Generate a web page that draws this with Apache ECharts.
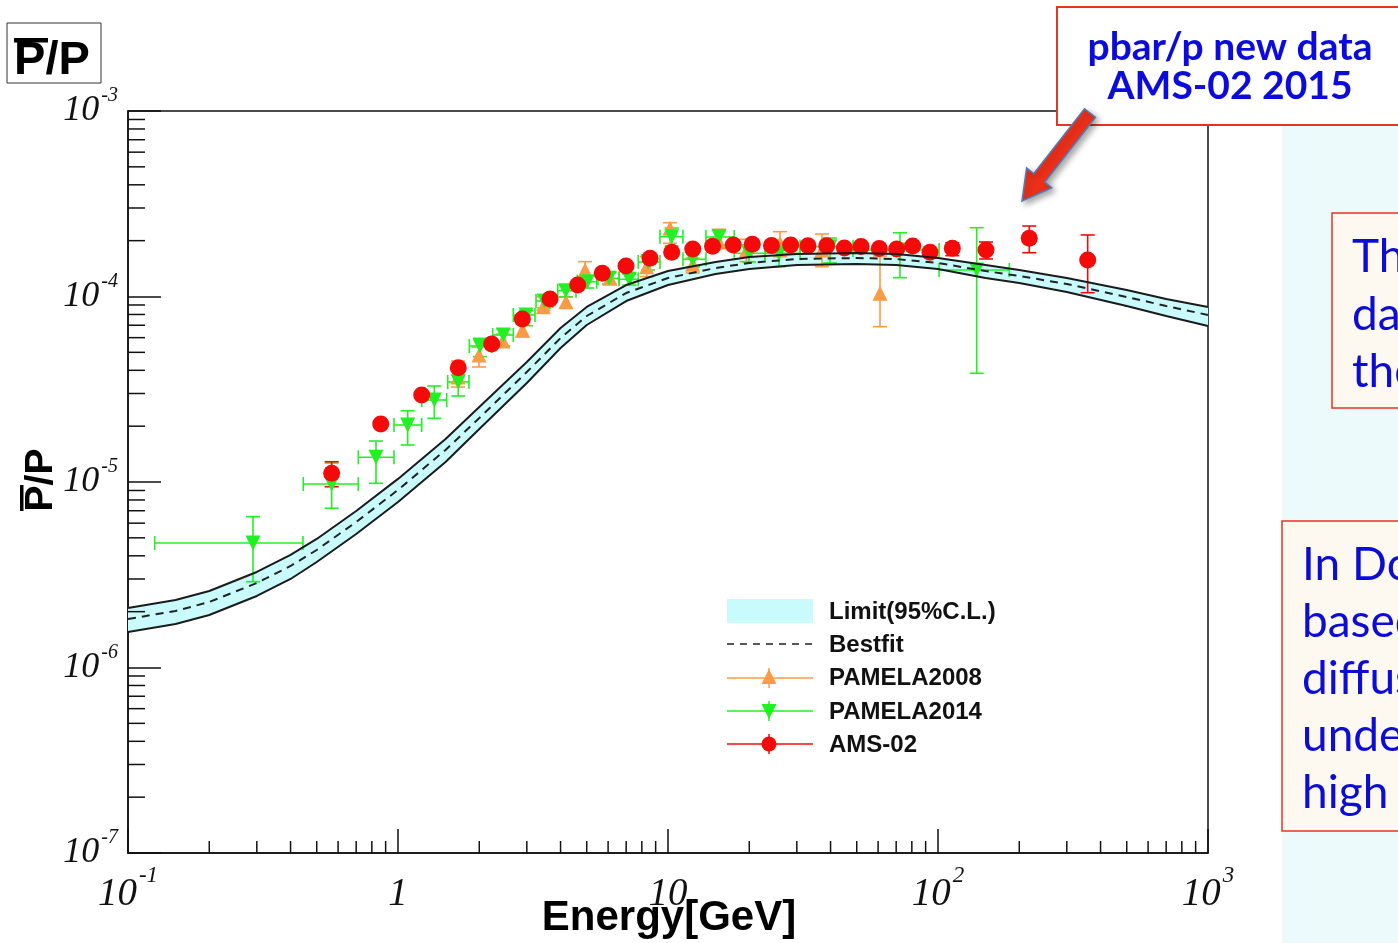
<!DOCTYPE html>
<html>
<head>
<meta charset="UTF-8">
<script src="https://cdn.jsdelivr.net/npm/echarts@6.0.0/dist/echarts.min.js"></script>
<title>pbar/p</title>
<style>
  html, body { margin: 0; padding: 0; background: #fff; }
  #chart { width: 1398px; height: 943px; }
</style>
</head>
<body>
<div id="chart"></div>
<script>
// model band (energy in GeV)
var bandE   = [0.1, 0.15, 0.2, 0.3, 0.4, 0.5, 0.7, 1, 1.5, 2, 3, 4, 5, 7, 10, 15, 20, 30, 50, 70, 100, 150, 200, 300, 500, 700, 1000];
var bestfit = [1.826e-6, 2.017e-6, 2.255e-6, 2.855e-6, 3.526e-6, 4.30e-6, 6.09e-6, 9.06e-6, 1.488e-5, 2.213e-5, 3.917e-5, 5.97e-5, 7.85e-5, 1.044e-4, 1.258e-4, 1.424e-4, 1.516e-4, 1.593e-4, 1.612e-4, 1.593e-4, 1.516e-4, 1.372e-4, 1.290e-4, 1.168e-4, 9.94e-5, 8.89e-5, 7.95e-5];
var bandHi  = [2.093e-6, 2.312e-6, 2.585e-6, 3.273e-6, 4.042e-6, 4.93e-6, 6.98e-6, 1.039e-5, 1.706e-5, 2.537e-5, 4.435e-5, 6.76e-5, 8.78e-5, 1.153e-4, 1.372e-4, 1.534e-4, 1.633e-4, 1.695e-4, 1.715e-4, 1.695e-4, 1.613e-4, 1.478e-4, 1.390e-4, 1.258e-4, 1.084e-4, 9.70e-5, 8.78e-5];
var bandLo  = [1.554e-6, 1.716e-6, 1.919e-6, 2.430e-6, 3.001e-6, 3.705e-6, 5.247e-6, 7.806e-6, 1.282e-5, 1.930e-5, 3.417e-5, 5.273e-5, 7.02e-5, 9.45e-5, 1.153e-4, 1.322e-4, 1.407e-4, 1.479e-4, 1.496e-4, 1.479e-4, 1.407e-4, 1.258e-4, 1.183e-4, 1.058e-4, 8.89e-5, 7.85e-5, 6.93e-5];

// PAMELA2008
var pam08E  = [1.668, 1.995, 2.448, 2.891, 3.452, 4.19, 4.93, 6.10, 8.34, 10.17, 12.35, 15.45, 19.53, 25.99, 37.19, 60.98];
var pam08V  = [3.68e-5, 4.84e-5, 5.76e-5, 6.60e-5, 8.81e-5, 9.38e-5, 1.390e-4, 1.253e-4, 1.448e-4, 2.331e-4, 1.492e-4, 1.967e-4, 1.781e-4, 1.935e-4, 1.781e-4, 1.040e-4];
var pam08Lo = [3.25e-5, 4.17e-5, 5.34e-5, 6.05e-5, 8.45e-5, 8.64e-5, 1.202e-4, 1.168e-4, 1.279e-4, 1.935e-4, 1.339e-4, 1.825e-4, 1.541e-4, 1.639e-4, 1.448e-4, 6.88e-5];
var pam08Hi = [4.49e-5, 5.34e-5, 6.28e-5, 7.11e-5, 9.97e-5, 9.97e-5, 1.541e-4, 1.356e-4, 1.639e-4, 2.498e-4, 1.612e-4, 2.303e-4, 2.034e-4, 2.236e-4, 2.173e-4, 1.653e-4];

// PAMELA2014
var pam14E    = [0.2904, 0.568, 0.829, 1.086, 1.363, 1.672, 2.012, 2.455, 2.979, 3.483, 4.18, 5.024, 6.045, 7.19, 8.43, 10.32, 12.35, 15.45, 19.95, 25.77, 39.81, 72.3, 139.1];
var pam14Emin = [0.1256, 0.4459, 0.7129, 0.9665, 1.224, 1.528, 1.837, 2.242, 2.673, 3.245, 3.905, 4.614, 5.505, 6.585, 7.76, 9.34, 11.36, 13.82, 17.60, 22.87, 30.83, 48.44, 100.9];
var pam14Emax = [0.4446, 0.7129, 0.9665, 1.224, 1.515, 1.832, 2.223, 2.673, 3.217, 3.741, 4.563, 5.443, 6.585, 7.76, 9.34, 11.36, 13.82, 17.60, 22.87, 30.83, 48.44, 100.9, 183.7];
var pam14V    = [4.69e-6, 9.75e-6, 1.359e-5, 2.029e-5, 2.767e-5, 3.461e-5, 5.41e-5, 6.20e-5, 7.95e-5, 9.46e-5, 1.075e-4, 1.202e-4, 1.253e-4, 1.238e-4, 1.535e-4, 2.101e-4, 1.587e-4, 2.093e-4, 1.710e-4, 1.710e-4, 1.856e-4, 1.781e-4, 1.390e-4];
var pam14Lo   = [2.90e-6, 7.22e-6, 9.84e-6, 1.583e-5, 2.205e-5, 2.908e-5, 4.74e-5, 5.41e-5, 6.96e-5, 8.67e-5, 9.94e-5, 1.111e-4, 1.168e-4, 1.153e-4, 1.390e-4, 1.872e-4, 1.442e-4, 1.895e-4, 1.535e-4, 1.448e-4, 1.516e-4, 1.263e-4, 3.855e-5];
var pam14Hi   = [6.50e-6, 1.266e-5, 1.663e-5, 2.423e-5, 3.293e-5, 3.774e-5, 5.95e-5, 6.68e-5, 8.38e-5, 1.019e-4, 1.153e-4, 1.290e-4, 1.339e-4, 1.322e-4, 1.674e-4, 2.340e-4, 1.737e-4, 2.283e-4, 1.895e-4, 1.942e-4, 2.067e-4, 2.207e-4, 2.349e-4];

// AMS-02
var amsE  = [0.568, 0.863, 1.224, 1.672, 2.223, 2.887, 3.656, 4.63, 5.71, 6.99, 8.58, 10.32, 12.35, 14.62, 17.45, 20.52, 24.17, 28.47, 33.0, 38.7, 45.0, 51.9, 60.6, 70.3, 80.6, 93.4, 113, 150.6, 217.8, 358.4];
var amsV  = [1.114e-5, 2.055e-5, 2.944e-5, 4.131e-5, 5.546e-5, 7.56e-5, 9.69e-5, 1.153e-4, 1.334e-4, 1.460e-4, 1.607e-4, 1.731e-4, 1.803e-4, 1.865e-4, 1.895e-4, 1.914e-4, 1.883e-4, 1.895e-4, 1.876e-4, 1.876e-4, 1.825e-4, 1.860e-4, 1.812e-4, 1.803e-4, 1.872e-4, 1.731e-4, 1.819e-4, 1.781e-4, 2.060e-4, 1.573e-4];
var amsLo = [9.43e-6, 1.97e-5, 2.83e-5, 3.98e-5, 5.35e-5, 7.30e-5, 9.36e-5, 1.115e-4, 1.290e-4, 1.412e-4, 1.554e-4, 1.674e-4, 1.743e-4, 1.803e-4, 1.832e-4, 1.850e-4, 1.820e-4, 1.832e-4, 1.814e-4, 1.814e-4, 1.764e-4, 1.798e-4, 1.752e-4, 1.743e-4, 1.810e-4, 1.674e-4, 1.660e-4, 1.593e-4, 1.722e-4, 1.048e-4];
var amsHi = [1.286e-5, 2.14e-5, 3.06e-5, 4.29e-5, 5.75e-5, 7.83e-5, 1.003e-4, 1.192e-4, 1.379e-4, 1.509e-4, 1.661e-4, 1.789e-4, 1.864e-4, 1.928e-4, 1.959e-4, 1.979e-4, 1.947e-4, 1.959e-4, 1.940e-4, 1.940e-4, 1.887e-4, 1.923e-4, 1.873e-4, 1.864e-4, 1.935e-4, 1.789e-4, 1.950e-4, 1.967e-4, 2.399e-4, 2.146e-4];

// minor tick positions
var xMinorTicks = [0.2, 0.3, 0.4, 0.5, 0.6, 0.7, 0.8, 0.9, 2, 3, 4, 5, 6, 7, 8, 9, 20, 30, 40, 50, 60, 70, 80, 90, 200, 300, 400, 500, 600, 700, 800, 900];
var yMinorTicks = [2e-7, 3e-7, 4e-7, 5e-7, 6e-7, 7e-7, 8e-7, 9e-7, 2e-6, 3e-6, 4e-6, 5e-6, 6e-6, 7e-6, 8e-6, 9e-6, 2e-5, 3e-5, 4e-5, 5e-5, 6e-5, 7e-5, 8e-5, 9e-5, 2e-4, 3e-4, 4e-4, 5e-4, 6e-4, 7e-4, 8e-4, 9e-4];

var ORANGE = '#fb9b45', GREEN = '#22f022', RED = '#f50a0a';

function zip() {
    var cols = arguments, out = [];
    for (var i = 0; i < cols[0].length; i++) {
        var row = [];
        for (var c = 0; c < cols.length; c++) row.push(cols[c][i]);
        out.push(row);
    }
    return out;
}

// error bars: [x, y, ylo, yhi, (xlo, xhi)]
function errRender(color, withX) {
    return function (params, api) {
        var x = api.value(0), y = api.value(1);
        var p = api.coord([x, y]);
        var lo = api.coord([x, api.value(2)]);
        var hi = api.coord([x, api.value(3)]);
        var st = { stroke: color, lineWidth: 1.6 };
        var cap = 7;
        var kids = [
            { type: 'line', shape: { x1: p[0], y1: lo[1], x2: p[0], y2: hi[1] }, style: st },
            { type: 'line', shape: { x1: p[0] - cap, y1: lo[1], x2: p[0] + cap, y2: lo[1] }, style: st },
            { type: 'line', shape: { x1: p[0] - cap, y1: hi[1], x2: p[0] + cap, y2: hi[1] }, style: st }
        ];
        if (withX) {
            var a = api.coord([api.value(4), y]);
            var b = api.coord([api.value(5), y]);
            kids.push({ type: 'line', shape: { x1: a[0], y1: p[1], x2: b[0], y2: p[1] }, style: st });
            kids.push({ type: 'line', shape: { x1: a[0], y1: p[1] - cap, x2: a[0], y2: p[1] + cap }, style: st });
            kids.push({ type: 'line', shape: { x1: b[0], y1: p[1] - cap, x2: b[0], y2: p[1] + cap }, style: st });
        }
        return { type: 'group', children: kids };
    };
}

function expOf(v) { return Math.round(Math.log(v) / Math.LN10); }

var chart = echarts.init(document.getElementById('chart'));

var serifLbl = { fontFamily: 'Liberation Serif', fontStyle: 'italic', color: '#111' };
var txt = function (x, y, s, extra) {
    var st = { text: s, fontFamily: 'Lato', fontSize: 46, fill: '#0c0cd8', verticalAlign: 'middle', textVerticalAlign: 'middle' };
    for (var k in extra) st[k] = extra[k];
    return { type: 'text', x: x, y: y, style: st };
};
var legTxt = function (y, s) {
    return { type: 'text', x: 829, y: y, style: { text: s, fontFamily: 'Liberation Sans', fontWeight: 'bold', fontSize: 24, fill: '#111', verticalAlign: 'middle', textVerticalAlign: 'middle' } };
};

var option = {
    animation: false,
    backgroundColor: '#fff',
    grid: { left: 128, top: 111, width: 1080, height: 742, outerBoundsMode: 'none', containLabel: false,
            show: true, borderColor: '#111', borderWidth: 1.5, backgroundColor: 'transparent' },
    xAxis: {
        type: 'log', logBase: 10, min: 0.1, max: 1000,
        axisLine: { lineStyle: { color: '#111', width: 1.5 } },
        axisTick: { inside: true, length: 24, lineStyle: { color: '#111', width: 1.5 } },
        splitLine: { show: false },
        axisLabel: {
            margin: 11,
            formatter: function (v) {
                var e = expOf(v);
                if (e === 0) return '{b|1}';
                if (e === 1) return '{b|10}';
                return '{b|10}{s|' + e + '}';
            },
            rich: {
                b: Object.assign({ fontSize: 39, lineHeight: 62 }, serifLbl),
                s: Object.assign({ fontSize: 23, lineHeight: 24, verticalAlign: 'top', padding: [0, 0, 0, 2] }, serifLbl)
            }
        }
    },
    yAxis: {
        type: 'log', logBase: 10, min: 1e-7, max: 1e-3,
        axisLine: { lineStyle: { color: '#111', width: 1.5 } },
        axisTick: { inside: true, length: 33, lineStyle: { color: '#111', width: 1.5 } },
        splitLine: { show: false },
        axisLabel: {
            margin: 10,
            formatter: function (v) { return '{b|10}{s|' + expOf(v) + '}'; },
            rich: {
                b: Object.assign({ fontSize: 36, lineHeight: 50 }, serifLbl),
                s: Object.assign({ fontSize: 20, lineHeight: 20, verticalAlign: 'top', padding: [0, 0, 0, 2] }, serifLbl)
            }
        }
    },
    series: [
        {   // 95% C.L. band
            type: 'custom', silent: true, clip: true,
            data: [[1, 1e-5]],
            renderItem: function (params, api) {
                var pts = [], i;
                for (i = 0; i < bandE.length; i++) pts.push(api.coord([bandE[i], bandHi[i]]));
                for (i = bandE.length - 1; i >= 0; i--) pts.push(api.coord([bandE[i], bandLo[i]]));
                return { type: 'polygon', shape: { points: pts }, style: { fill: '#c9fbfd' } };
            }
        },
        { type: 'line', silent: true, symbol: 'none', data: zip(bandE, bandHi), lineStyle: { color: '#1b1b1b', width: 2 } },
        { type: 'line', silent: true, symbol: 'none', data: zip(bandE, bandLo), lineStyle: { color: '#1b1b1b', width: 2 } },
        { type: 'line', silent: true, symbol: 'none', data: zip(bandE, bestfit), lineStyle: { color: '#222', width: 2, type: [8, 6] } },

        { type: 'custom', silent: true, encode: { x: 0, y: 1 }, data: zip(pam08E, pam08V, pam08Lo, pam08Hi), renderItem: errRender(ORANGE, false) },
        { type: 'scatter', silent: true, symbol: 'triangle', symbolSize: 15, itemStyle: { color: ORANGE, opacity: 1 }, data: zip(pam08E, pam08V) },

        { type: 'custom', silent: true, encode: { x: 0, y: 1 }, data: zip(pam14E, pam14V, pam14Lo, pam14Hi, pam14Emin, pam14Emax), renderItem: errRender(GREEN, true) },
        { type: 'scatter', silent: true, symbol: 'triangle', symbolRotate: 180, symbolSize: 15, itemStyle: { color: GREEN, opacity: 1 }, data: zip(pam14E, pam14V) },

        { type: 'custom', silent: true, encode: { x: 0, y: 1 }, data: zip(amsE, amsV, amsLo, amsHi), renderItem: errRender(RED, false) },
        { type: 'scatter', silent: true, symbol: 'circle', symbolSize: 17, itemStyle: { color: RED, opacity: 1 }, data: zip(amsE, amsV) },

        {   // x minor ticks
            type: 'custom', silent: true, clip: false, encode: { x: 0, y: 1 },
            data: xMinorTicks.map(function (v) { return [v, 1e-7]; }),
            renderItem: function (params, api) {
                var p = api.coord([api.value(0), 1e-7]);
                return { type: 'line', shape: { x1: p[0], y1: p[1], x2: p[0], y2: p[1] - 12 }, style: { stroke: '#111', lineWidth: 1.5 } };
            }
        },
        {   // y minor ticks
            type: 'custom', silent: true, clip: false, encode: { x: 0, y: 1 },
            data: yMinorTicks.map(function (v) { return [0.1, v]; }),
            renderItem: function (params, api) {
                var p = api.coord([0.1, api.value(1)]);
                return { type: 'line', shape: { x1: p[0], y1: p[1], x2: p[0] + 17, y2: p[1] }, style: { stroke: '#111', lineWidth: 1.5 } };
            }
        }
    ],
    graphic: [
        // right side slide panel
        { type: 'rect', shape: { x: 1282, y: 120, width: 130, height: 830 }, style: { fill: '#edfafb' } },
        { type: 'rect', shape: { x: 1332, y: 213, width: 90, height: 195 }, style: { fill: '#fdf9f0', stroke: '#e8341f', lineWidth: 1.5 } },
        txt(1352, 257, 'Th'), txt(1352, 315, 'da'), txt(1352, 372, 'the'),
        { type: 'rect', shape: { x: 1282, y: 521, width: 140, height: 310 }, style: { fill: '#fdf9f0', stroke: '#e8341f', lineWidth: 1.5 } },
        txt(1302, 565, 'In Do'), txt(1302, 622, 'based'), txt(1302, 679, 'diffus'), txt(1302, 736, 'unde'), txt(1302, 793, 'high e'),

        // annotation box + arrow
        { type: 'rect', shape: { x: 1057, y: 7, width: 360, height: 118 }, style: { fill: '#fff', stroke: '#e8341f', lineWidth: 2 } },
        txt(1230, 47, 'pbar/p new data', { fontWeight: 'bold', fontSize: 39, fill: '#0b0be0', align: 'center', textAlign: 'center' }),
        txt(1230, 86, 'AMS-02 2015', { fontWeight: 'bold', fontSize: 39, fill: '#0b0be0', align: 'center', textAlign: 'center' }),
        { type: 'polygon', shape: { points: [[1095.5, 117.3], [1044.7, 182.2], [1051.8, 187.8], [1022, 201], [1026.6, 168.0], [1033.7, 173.6], [1084.5, 108.7]] },
          style: { fill: '#ee3019', stroke: '#4a7ebb', lineWidth: 1.5, shadowBlur: 6, shadowColor: 'rgba(0,0,0,0.35)', shadowOffsetX: 3, shadowOffsetY: 3 } },

        // title box
        { type: 'rect', shape: { x: 7, y: 23, width: 94, height: 60 }, style: { fill: '#fff', stroke: '#333', lineWidth: 1 } },
        { type: 'text', x: 52, y: 61, style: { text: 'P/P', fontFamily: 'Liberation Sans', fontWeight: 'bold', fontSize: 47, fill: '#000', align: 'center', textAlign: 'center', verticalAlign: 'middle', textVerticalAlign: 'middle' } },
        { type: 'rect', shape: { x: 14, y: 38, width: 34, height: 4.5 }, style: { fill: '#000' } },

        // y axis title (rotated, with overbar)
        { type: 'group', x: 41, y: 480, rotation: Math.PI / 2, children: [
            { type: 'text', x: 0, y: 0, style: { text: 'P/P', fontFamily: 'Liberation Sans', fontWeight: 'bold', fontSize: 39, fill: '#000', align: 'center', textAlign: 'center', verticalAlign: 'middle', textVerticalAlign: 'middle' } },
            { type: 'rect', shape: { x: -31, y: -21, width: 26, height: 3.5 }, style: { fill: '#000' } }
        ] },

        // x axis title
        { type: 'text', x: 669, y: 918, style: { text: 'Energy[GeV]', fontFamily: 'Liberation Sans', fontWeight: 'bold', fontSize: 42, fill: '#000', align: 'center', textAlign: 'center', verticalAlign: 'middle', textVerticalAlign: 'middle' } },

        // legend
        { type: 'rect', shape: { x: 727, y: 599, width: 86, height: 24 }, style: { fill: '#c9fbfd' } },
        { type: 'line', shape: { x1: 727, y1: 644, x2: 813, y2: 644 }, style: { stroke: '#222', lineWidth: 1.5, lineDash: [7, 6] } },
        { type: 'line', shape: { x1: 727, y1: 678, x2: 813, y2: 678 }, style: { stroke: ORANGE, lineWidth: 1.5 } },
        { type: 'line', shape: { x1: 769, y1: 668, x2: 769, y2: 688 }, style: { stroke: ORANGE, lineWidth: 1.5 } },
        { type: 'polygon', shape: { points: [[769, 669], [776.5, 684], [761.5, 684]] }, style: { fill: ORANGE } },
        { type: 'line', shape: { x1: 727, y1: 711, x2: 813, y2: 711 }, style: { stroke: GREEN, lineWidth: 1.5 } },
        { type: 'line', shape: { x1: 769, y1: 701, x2: 769, y2: 721 }, style: { stroke: GREEN, lineWidth: 1.5 } },
        { type: 'polygon', shape: { points: [[769, 719], [776.5, 704], [761.5, 704]] }, style: { fill: GREEN } },
        { type: 'line', shape: { x1: 727, y1: 744, x2: 813, y2: 744 }, style: { stroke: RED, lineWidth: 1.5 } },
        { type: 'line', shape: { x1: 769, y1: 734, x2: 769, y2: 754 }, style: { stroke: RED, lineWidth: 1.5 } },
        { type: 'circle', shape: { cx: 769, cy: 744, r: 7.5 }, style: { fill: RED } },
        legTxt(612, 'Limit(95%C.L.)'), legTxt(645, 'Bestfit'), legTxt(678, 'PAMELA2008'), legTxt(712, 'PAMELA2014'), legTxt(745, 'AMS-02')
    ]
};

chart.setOption(option);
</script>
</body>
</html>
